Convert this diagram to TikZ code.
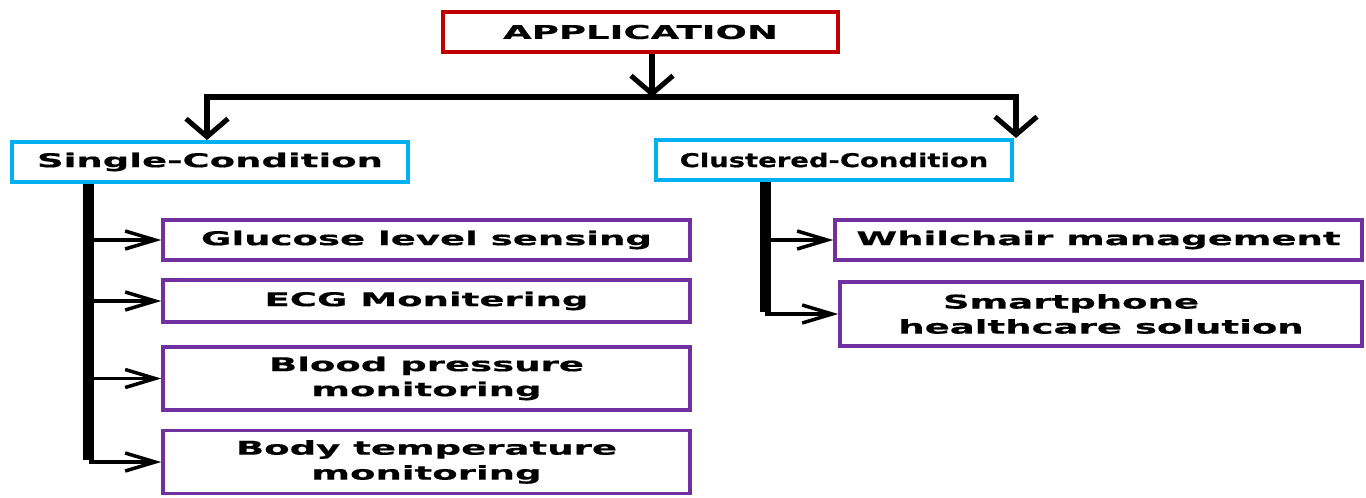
\documentclass[tikz,border=0pt]{standalone}
\usepackage{graphicx}
\usepackage{fontspec}
\usetikzlibrary{arrows.meta}
\newfontfamily\lbl{DejaVu Sans Bold}[FakeStretch=1.95,FakeBold=0.6]
\definecolor{appred}{HTML}{C00000}
\definecolor{catblue}{HTML}{00B0F0}
\definecolor{leafpurple}{HTML}{7030A0}
\begin{document}
\begin{tikzpicture}[x=1pt,y=-1pt,
  box/.style={line width=3.5pt, inner sep=0pt, fill=white, align=center,
    font=\lbl\fontsize{19}{25}\selectfont},
  appbox/.style={box, draw=appred},
  catbox/.style={box, draw=catblue},
  leafbox/.style={box, draw=leafpurple},
  mainline/.style={line width=6pt},
  mainarrow/.style={line width=6pt, -{Straight Barb[length=18pt,width=42pt,line width=5pt]}},
  trunk/.style={line width=11pt},
  branch/.style={line width=3.5pt, -{Straight Barb[length=30pt,width=18pt,line width=3.5pt]}}]
\useasboundingbox (0,0) rectangle (1366,498);
\fill[white] (0,0) rectangle (1366,498);
% nodes
\node[appbox, minimum width=395pt, minimum height=40pt] (app) at (640.5,32) {APPLICATION};
\node[catbox, minimum width=396pt, minimum height=40pt] (single) at (210,162) {Single-Condition};
\node[catbox, minimum width=356pt, minimum height=40pt] (cluster) at (834,160) {\scalebox{0.74}[1]{Clustered-Condition}};
\node[leafbox, minimum width=527pt, minimum height=40pt] (glu) at (426.5,240) {Glucose level sensing};
\node[leafbox, minimum width=527pt, minimum height=42pt] (ecg) at (426.5,301) {ECG Monitering};
\node[leafbox, minimum width=527pt, minimum height=63pt] (bp) at (426.5,378.5) {Blood pressure\\monitoring};
\node[leafbox, minimum width=527pt, minimum height=63pt] (bt) at (426.5,462) {Body temperature\\monitoring};
\node[leafbox, minimum width=527pt, minimum height=40pt] (wc) at (1098.5,240) {Whilchair management};
\node[leafbox, minimum width=522pt, minimum height=64pt] (sp) at (1101,314) {Smartphone\hspace*{60pt}\\healthcare solution};
% coordinates
\coordinate (busL) at (207,97);
\coordinate (busR) at (1016,97);
\coordinate (tL) at (88.5,462);
\coordinate (tR) at (765,314);
% connectors
\draw[mainarrow] (app.south -| 652,0) -- (652,97);
\draw[mainline] ([xshift=-3pt]busL) -- ([xshift=3pt]busR);
\draw[mainarrow] (busL) -- (207,140);
\draw[mainarrow] (busR) -- (1016,138);
\draw[trunk] (single.south -| tL) -- ([yshift=1.75pt]tL);
\draw[branch] (glu.west -| tL) -- (glu.west);
\draw[branch] (ecg.west -| tL) -- (ecg.west);
\draw[branch] (bp.west -| tL) -- (bp.west);
\draw[branch] (tL) -- (bt.west);
\draw[trunk] (cluster.south -| tR) -- ([yshift=1.75pt]tR);
\draw[branch] (wc.west -| tR) -- (wc.west);
\draw[branch] (tR) -- (sp.west);
\end{tikzpicture}
\end{document}
